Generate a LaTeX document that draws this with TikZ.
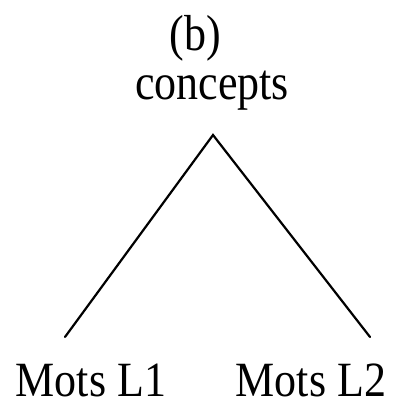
\documentclass[tikz,border=0pt]{standalone}
\usepackage{fontspec}
\setmainfont{Liberation Serif}
\begin{document}
\begin{tikzpicture}[x=1pt,y=1pt,
  lbl/.style={anchor=base,inner sep=0pt,font=\fontsize{44}{50}\selectfont},
  edge/.style={line width=2.2pt,line cap=round}]
\useasboundingbox (0,0) rectangle (396,409);
\node[lbl] (b) at (195,358) {\scalebox{1}[1.15]{(b)}};
\node[lbl] (c) at (212,309) {\scalebox{1}[1.15]{concepts}};
\node[lbl] (m1) at (91,12) {\scalebox{1}[1.12]{Mots L1}};
\node[lbl] (m2) at (311,12) {\scalebox{1}[1.12]{Mots L2}};
\coordinate (apex) at (213,274);
\coordinate (e1) at (65,72);
\coordinate (e2) at (370,72);
\draw[edge] (e1) -- (apex) -- (e2);
\end{tikzpicture}
\end{document}
